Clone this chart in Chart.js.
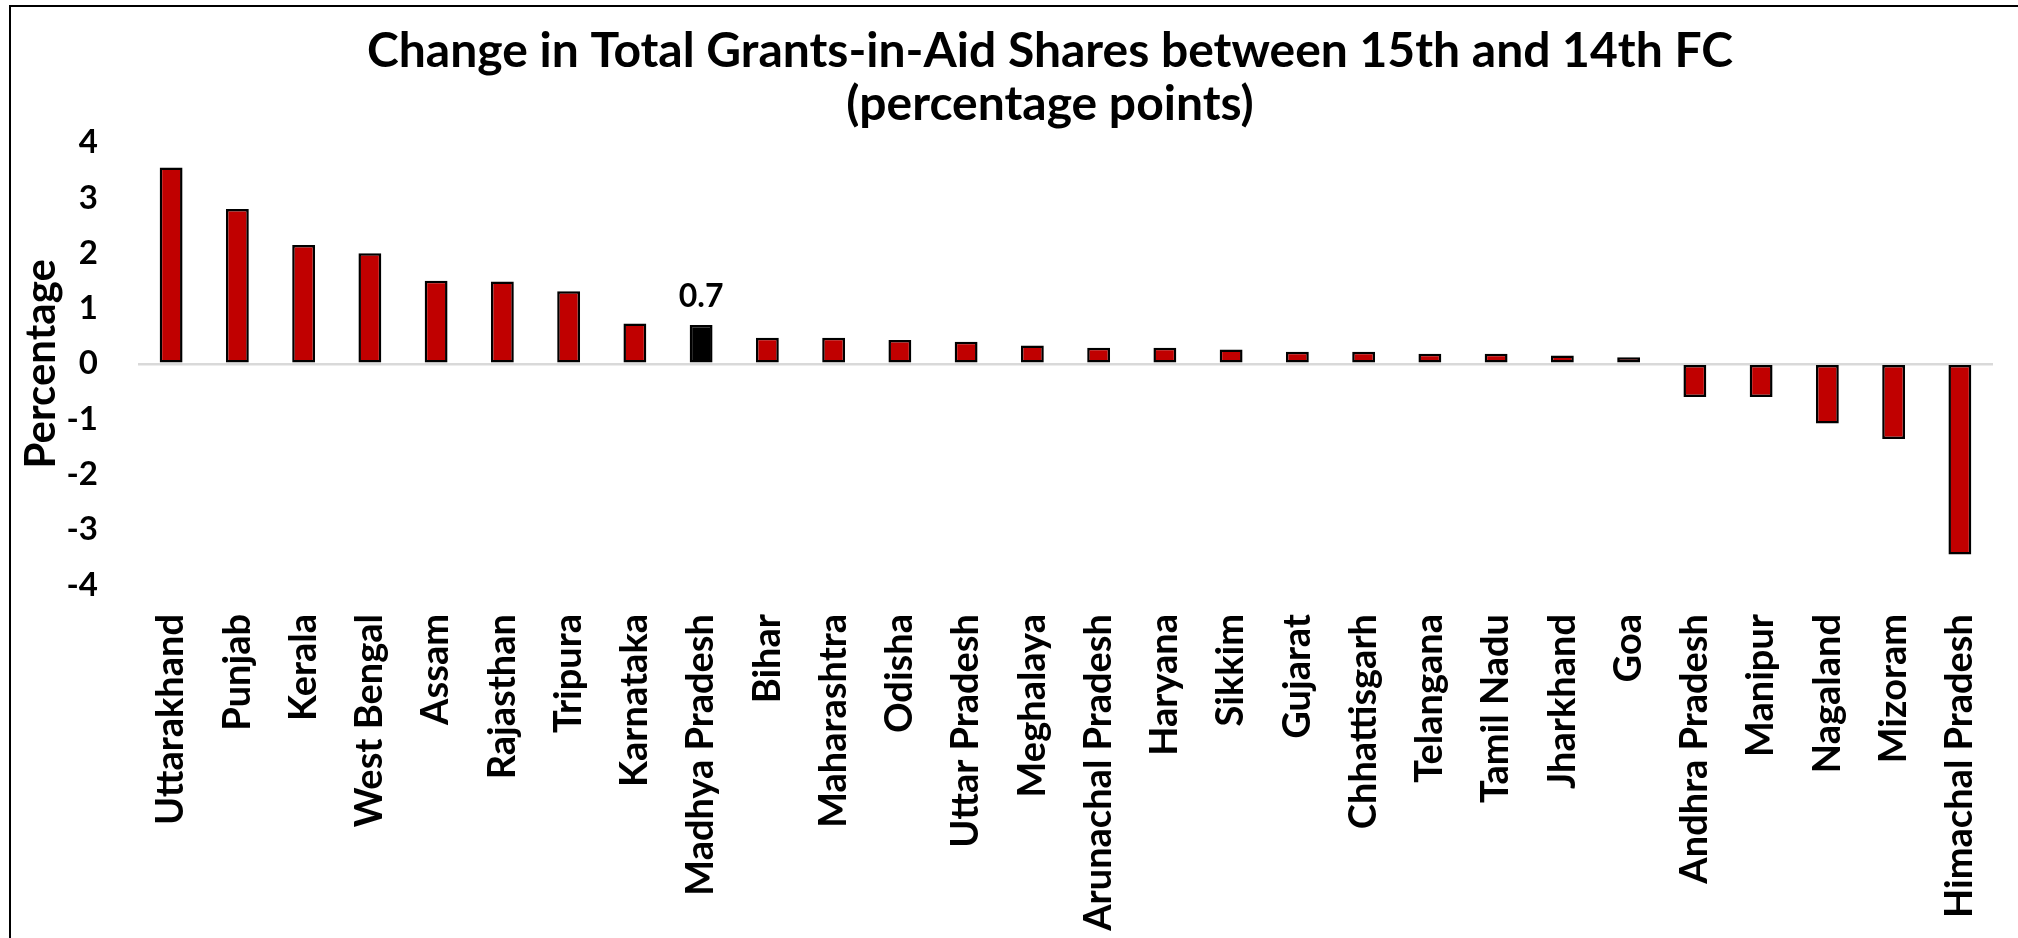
<!DOCTYPE html>
<html>
<head>
<meta charset="utf-8">
<script src="https://cdn.jsdelivr.net/npm/chart.js@4.4.1/dist/chart.umd.min.js"></script>
<style>
    html, body { margin: 0; padding: 0; background: #fff; overflow: hidden; }
    #frame {
        position: absolute; left: 9px; top: 5px;
        width: 2200px; height: 1000px;
        border: 2px solid #000;
    }
    #chart-wrapper { position: absolute; left: 0; top: 0; width: 2100px; height: 938px; }
</style>
</head>
<body>
<div id="frame"></div>
<div id="chart-wrapper">
    <canvas id="grantsChart" width="2100" height="938"></canvas>
</div>
<script>
    var states = [
        'Uttarakhand', 'Punjab', 'Kerala', 'West Bengal', 'Assam', 'Rajasthan',
        'Tripura', 'Karnataka', 'Madhya Pradesh', 'Bihar', 'Maharashtra', 'Odisha',
        'Uttar Pradesh', 'Meghalaya', 'Arunachal Pradesh', 'Haryana', 'Sikkim',
        'Gujarat', 'Chhattisgarh', 'Telangana', 'Tamil Nadu', 'Jharkhand', 'Goa',
        'Andhra Pradesh', 'Manipur', 'Nagaland', 'Mizoram', 'Himachal Pradesh'
    ];
    var shareChange = [
        3.55, 2.8, 2.15, 2.0, 1.5, 1.49,
        1.31, 0.73, 0.7, 0.47, 0.47, 0.43,
        0.4, 0.33, 0.29, 0.29, 0.26,
        0.22, 0.22, 0.18, 0.18, 0.15, 0.12,
        -0.6, -0.6, -1.08, -1.36, -3.45
    ];
    var yTicks = [4, 3, 2, 1, 0, -1, -2, -3, -4];
    var highlighted = 'Madhya Pradesh';

    var FONT = 'Lato, "Open Sans", sans-serif';

    var barColors = states.map(function (s) {
        return s === highlighted ? '#000000' : '#C00000';
    });

    // value label above the highlighted bar only
    var highlightLabel = {
        id: 'highlightLabel',
        afterDatasetsDraw: function (chart) {
            var i = states.indexOf(highlighted);
            var bar = chart.getDatasetMeta(0).data[i];
            var ctx = chart.ctx;
            ctx.save();
            ctx.font = 'bold 32px ' + FONT;
            ctx.fillStyle = '#000';
            ctx.textAlign = 'center';
            ctx.textBaseline = 'bottom';
            ctx.fillText(shareChange[i].toFixed(1), bar.x, bar.y - 12);
            ctx.restore();
        }
    };

    var chart = new Chart('grantsChart', {
        type: 'bar',
        data: {
            labels: states,
            datasets: [{
                data: shareChange,
                backgroundColor: barColors,
                borderColor: '#000',
                borderWidth: 2.5,
                borderSkipped: false,
                barPercentage: 0.345,
                categoryPercentage: 1
            }]
        },
        plugins: [highlightLabel],
        options: {
            responsive: false,
            animation: false,
            layout: { padding: 0 },
            plugins: {
                legend: { display: false },
                tooltip: { enabled: false },
                title: {
                    display: true,
                    text: ['Change in Total Grants-in-Aid Shares between 15th and 14th FC', '(percentage points)'],
                    color: '#000',
                    font: { family: FONT, size: 48, weight: 'bold', lineHeight: 1.1 },
                    padding: { top: 25, bottom: 12 }
                }
            },
            scales: {
                x: {
                    grid: { display: false },
                    border: { display: false },
                    ticks: {
                        autoSkip: false,
                        minRotation: 90,
                        maxRotation: 90,
                        padding: 21,
                        color: '#000',
                        font: { family: FONT, size: 38, weight: 'bold' }
                    },
                    afterFit: function (scale) { scale.height = 938 - 585; }
                },
                y: {
                    min: -4,
                    max: 4,
                    z: 1,
                    afterBuildTicks: function (scale) {
                        scale.ticks = yTicks.slice().reverse().map(function (v) { return { value: v }; });
                    },
                    grid: {
                        drawTicks: false,
                        lineWidth: 2.5,
                        color: function (c) { return c.tick && c.tick.value === 0 ? '#d9d9d9' : 'rgba(0,0,0,0)'; }
                    },
                    border: { display: false },
                    ticks: {
                        padding: 40,
                        color: '#000',
                        font: { family: FONT, size: 33, weight: 'bold' }
                    },
                    title: {
                        display: true,
                        text: 'Percentage',
                        color: '#000',
                        font: { family: FONT, size: 42, weight: 'bold' },
                        padding: { top: 16, bottom: 0 }
                    },
                    afterFit: function (scale) { scale.width = 138; }
                },
                // blank right-hand gutter so the chart area ends where the frame is cut off
                gutter: {
                    type: 'linear',
                    position: 'right',
                    display: true,
                    grid: { display: false },
                    border: { display: false },
                    ticks: { display: false },
                    afterFit: function (scale) { scale.width = 107; }
                }
            }
        }
    });
</script>
</body>
</html>
